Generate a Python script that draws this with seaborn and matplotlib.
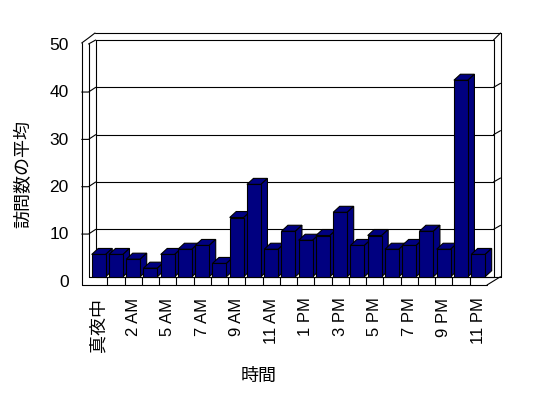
import numpy as np
import pandas as pd
import matplotlib
matplotlib.use("Agg")
import matplotlib.pyplot as plt
import matplotlib.transforms as mtransforms
from matplotlib.patches import Polygon
from matplotlib.lines import Line2D
import seaborn as sns

# ---- data ----
hours = ["真夜中", "1 AM", "2 AM", "3 AM", "5 AM", "6 AM", "7 AM", "8 AM",
         "9 AM", "10 AM", "11 AM", "12 PM", "1 PM", "2 PM", "3 PM", "4 PM",
         "5 PM", "6 PM", "7 PM", "8 PM", "9 PM", "10 PM", "11 PM"]
visits = [4.7, 4.7, 3.7, 1.8, 4.7, 5.8, 6.6, 2.8, 12.5, 19.5, 5.8, 9.6,
          7.7, 8.7, 13.6, 6.6, 8.7, 5.8, 6.6, 9.6, 5.8, 41.5, 4.7]
ytick_vals = [0, 10, 20, 30, 40, 50]
xlabel = "時間"
ylabel = "訪問数の平均"

sns.set_theme(style="white")
plt.rcParams["font.family"] = ["Liberation Sans", "Noto Sans CJK JP"]
plt.rcParams["text.color"] = "black"
plt.rcParams["axes.labelcolor"] = "black"
plt.rcParams["xtick.color"] = "black"
plt.rcParams["ytick.color"] = "black"

W, H = 548, 398
fig = plt.figure(figsize=(W / 100, H / 100), dpi=100)
fig.patch.set_facecolor("white")

# front plane of the 3-D box (pixels)
X0, X1 = 90.1, 486.8
Y0, Y1 = 276.7, 40.0
ax = fig.add_axes([X0 / W, (H - Y0) / H, (X1 - X0) / W, (Y0 - Y1) / H])

df = pd.DataFrame({"hour": hours, "visits": visits})
navy = "#000080"
sns.barplot(data=df, x="hour", y="visits", order=hours, color=navy,
            saturation=1, width=14 / 17.25, edgecolor="black",
            linewidth=0.8, ax=ax, errorbar=None)

ax.set_xlim(-0.5, len(hours) - 0.5)
ax.set_ylim(0, 50)
for s in ax.spines.values():
    s.set_visible(False)
ax.patch.set_alpha(0)

# 3-D depth of bars (data units)
px_per_x = (X1 - X0) / len(hours)
px_per_y = (Y0 - Y1) / 50
ddx = 6.5 / px_per_x
ddy = 6.0 / px_per_y
for i, p in enumerate(ax.patches):
    z = 3 + i * 0.01
    p.set_zorder(z + 0.005)
    x0, w, h = p.get_x(), p.get_width(), p.get_height()
    top = Polygon([(x0, h), (x0 + w, h), (x0 + w + ddx, h + ddy), (x0 + ddx, h + ddy)],
                  closed=True, facecolor=navy, edgecolor="black", lw=0.8, zorder=z, clip_on=False)
    side = Polygon([(x0 + w, 0), (x0 + w + ddx, ddy), (x0 + w + ddx, h + ddy), (x0 + w, h)],
                   closed=True, facecolor=navy, edgecolor="black", lw=0.8, zorder=z, clip_on=False)
    ax.add_patch(top)
    ax.add_patch(side)

# ticks & labels
ax.set_xticks(range(0, len(hours), 2), labels=hours[::2], rotation=90)
ax.tick_params(axis="x", length=0, pad=15.0, labelsize=12, labelcolor="black")
for lbl in ax.get_xticklabels():
    if lbl.get_text() == hours[0]:
        lbl.set_fontsize(13)
ax.set_yticks(ytick_vals, labels=[str(v) for v in ytick_vals])
ax.tick_params(axis="y", length=0, pad=15.5, labelsize=12.5, labelcolor="black")
off = mtransforms.ScaledTranslation(0, -4.0 / 100, fig.dpi_scale_trans)
for lbl in ax.get_yticklabels():
    lbl.set_transform(lbl.get_transform() + off)

ax.set_xlabel(xlabel, fontsize=13, color="black")
ax.xaxis.label.set_va("center")
ax.xaxis.set_label_coords((259 - X0) / (X1 - X0), (Y0 - 376.7) / (Y0 - Y1))
ax.set_ylabel(ylabel, fontsize=13, color="black")
ax.yaxis.label.set_va("center")
ax.yaxis.set_label_coords((24 - X0) / (X1 - X0), (Y0 - 174) / (Y0 - Y1))

# frame / walls, in pixel coordinates
pix = mtransforms.Affine2D().scale(1, -1).translate(0, H)
lw = 0.8


def pline(xs, ys, z=1):
    ax.add_line(Line2D(xs, ys, transform=pix, color="black", lw=lw,
                       clip_on=False, zorder=z))


def ypx(v):
    return Y0 - v * px_per_y


pline([81.7, 81.7], [43, 285])
pline([81.7, 487], [285, 285], z=10)
pline([487, 500.5], [285, 276.7], z=10)
pline([500.5, 500.5], [33, 276.7])
pline([95, 500.5], [33, 33])
pline([81.7, 88.5, 95], [43, 38, 33])
pline([88.5, 88.5], [44, 276.7])
pline([88.5, 95.7], [44, 40])
pline([95.7, 95.7], [40, 276.7])
pline([493.5, 493.5], [40, 276.7])
pline([493.5, 500.5], [40, 33])
pline([88.5, 500.5], [276.7, 276.7])

for v in ytick_vals:
    y = ypx(v)
    pline([95.7, 493.5], [y, y])
    if 0 < v < 50:
        pline([81.7, 88.5, 95.7], [y + 4.7, y + 4.7, y])
        pline([493.5, 500.5], [y, y - 4])

# floor category separators
for k in range(len(hours) - 1):
    xb = X0 + (k + 1) * px_per_x
    pline([xb, xb], [276.7, 285], z=10)

fig.savefig("out.png", dpi=100)
